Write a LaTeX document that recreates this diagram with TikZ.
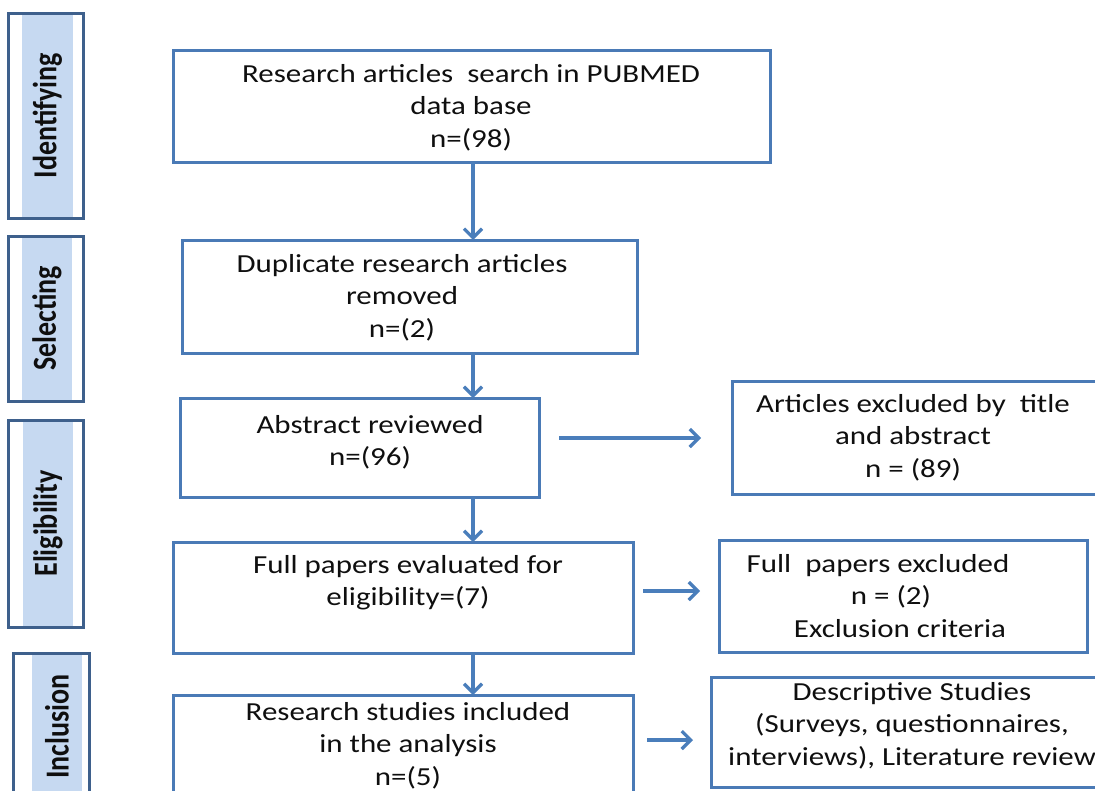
\documentclass[tikz,border=0pt]{standalone}
\usepackage{fontspec}
\usepackage{graphicx}
\setmainfont{Carlito}[FakeStretch=1.19]
\newfontfamily\lblfont{Carlito}
\usetikzlibrary{arrows.meta}
\definecolor{boxblue}{RGB}{74,122,182}
\definecolor{barfill}{RGB}{198,217,241}
\definecolor{barline}{RGB}{62,96,140}
\definecolor{arrowblue}{RGB}{74,126,187}
\definecolor{ink}{RGB}{15,15,15}
\begin{document}
\begin{tikzpicture}[x=1pt,y=-1pt,
 box/.style={draw=boxblue,line width=3pt,anchor=north west,inner sep=0pt,outer sep=0pt},
 txt/.style={align=center,font=\fontsize{26}{32.5}\selectfont,inner sep=0pt,text=ink},
 bar/.style={draw=barline,line width=3pt},
 lbl/.style={rotate=90,fill=barfill,inner sep=0pt,text=ink,font=\lblfont\fontsize{28}{30}\selectfont\bfseries},
 arr/.style={draw=arrowblue,line width=3.2pt,-{Straight Barb[length=9pt,width=18pt]}}]
\useasboundingbox (0,0) rectangle (1095,790);
\clip (0,0) rectangle (1095,790);

% stage bars
\node[lbl,minimum width=205pt,minimum height=51pt] (lid) at (47.5,115.5) {\scalebox{1}[1.2]{Identifying}};
\draw[bar] (8,13) rectangle (83,218);
\node[lbl,minimum width=165pt,minimum height=50pt] (lsel) at (47,318.5) {\scalebox{1}[1.2]{Selecting}};
\draw[bar] (8,236) rectangle (83,401);
\node[lbl,minimum width=207pt,minimum height=50pt] (lel) at (48,523.5) {\scalebox{1}[1.2]{Eligibility}};
\draw[bar] (8,420) rectangle (83,627);
\node[lbl,minimum width=147pt,minimum height=50pt] (lin) at (57,726.5) {\scalebox{1}[1.2]{Inclusion}};
\draw[bar] (13,653) rectangle (89,800);

% main boxes
\node[box,minimum width=597pt,minimum height=112pt] (b1) at (173,50) {};
\node[box,minimum width=455pt,minimum height=113pt] (b2) at (182,240) {};
\node[box,minimum width=359pt,minimum height=99pt] (b3) at (180,398) {};
\node[box,minimum width=460pt,minimum height=111pt] (b4) at (173,542) {};
\node[box,minimum width=460pt,minimum height=120pt] (b5) at (173,695) {};
% side boxes
\node[box,minimum width=380pt,minimum height=113pt] (rA) at (732,381) {};
\node[box,minimum width=368pt,minimum height=112pt] (rB) at (719,540) {};
\node[box,minimum width=402pt,minimum height=110pt] (rC) at (711,677) {};

% texts
\node[txt] (t1) at (471,108) {\strut Research articles\ \ search in PUBMED\\\strut data base\\\strut n=(98)};
\node[txt] (t2) at (402,298) {\strut Duplicate research articles\\\strut removed\\\strut n=(2)};
\node[txt] (t3) at (370,443) {\strut Abstract reviewed\\\strut n=(96)};
\node[txt] (t4) at (408,583) {\strut Full papers evaluated for\\\strut eligibility=(7)};
\node[txt] (t5) at (408,746) {\strut Research studies included\\\strut in the analysis\\\strut n=(5)};
\node[txt] (tA) at (913,438) {\strut Articles excluded by\ \ title\\\strut and abstract\\\strut n = (89)};
\node[txt] (tB) at (891,598) {\strut Full\ \ papers excluded\hspace*{26pt}\\\strut n = (2)\\\hspace*{18pt}\strut Exclusion criteria};
\node[txt] (tC) at (912,726) {\strut Descriptive Studies\\\strut (Surveys, questionnaires,\\\strut interviews), Literature review};

% connectors
\coordinate (col) at (473,0);
\draw[arr] (b1.south -| col) -- (b2.north -| col);
\draw[arr] (b2.south -| col) -- (b3.north -| col);
\draw[arr] (b3.south -| col) -- (b4.north -| col);
\draw[arr] (b4.south -| col) -- (b5.north -| col);

\coordinate (h1s) at (559,438);
\coordinate (h1e) at (701,438);
\coordinate (h2s) at (643,591);
\coordinate (h2e) at (700,591);
\coordinate (h3s) at (647,740);
\coordinate (h3e) at (693,740);
\draw[arr] (h1s) -- (h1e);
\draw[arr] (h2s) -- (h2e);
\draw[arr] (h3s) -- (h3e);
\end{tikzpicture}
\end{document}
